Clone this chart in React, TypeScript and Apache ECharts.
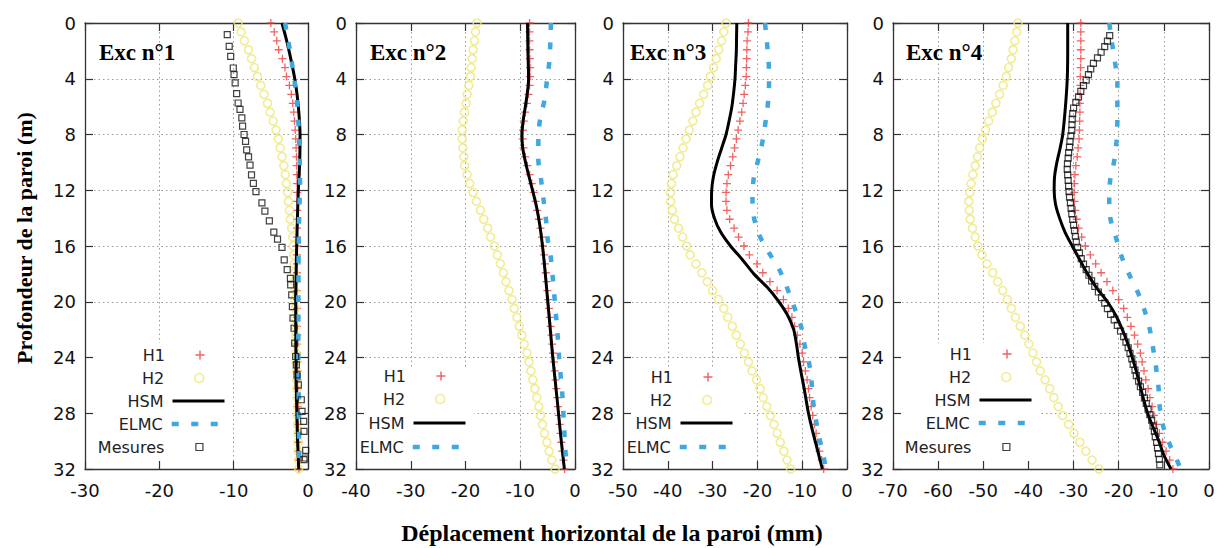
import React, { useEffect, useRef } from "react";
import * as echarts from "echarts";

// ---------- DATA ----------
const PANEL_TITLES = ["Exc n°1", "Exc n°2", "Exc n°3", "Exc n°4"];
const X_MIN = [-30, -40, -50, -70];
const X_MAX = 0;
const X_STEP = 10;
const DEPTH_MIN = 0;
const DEPTH_MAX = 32;
const DEPTH_STEP = 4;
const X_TITLE = "Déplacement horizontal de la paroi (mm)";
const Y_TITLE = "Profondeur de la paroi (m)";

// depths of the H1 / H2 markers (m)
const MARK_DEPTHS = [0, 0.64, 1.28, 1.92, 2.56, 3.2, 3.84, 4.48, 5.12, 5.76, 6.4, 7.04, 7.68, 8.32, 8.96, 9.6, 10.24, 10.88, 11.52, 12.16, 12.8, 13.44, 14.08, 14.72, 15.36, 16, 16.64, 17.28, 17.92, 18.56, 19.2, 19.84, 20.48, 21.12, 21.76, 22.4, 23.04, 23.68, 24.32, 24.96, 25.6, 26.24, 26.88, 27.52, 28.16, 28.8, 29.44, 30.08, 30.72, 31.36, 32];

// ----- Exc n°1 -----
const H1_EXC1 = [-5.0, -4.55, -4.2, -3.95, -3.45, -3.1, -2.9, -2.5, -2.25, -2.05, -1.92, -1.82, -1.72, -1.65, -1.6, -1.55, -1.52, -1.5, -1.48, -1.47, -1.47, -1.47, -1.47, -1.48, -1.48, -1.49, -1.5, -1.5, -1.5, -1.5, -1.5, -1.5, -1.49, -1.48, -1.47, -1.46, -1.45, -1.44, -1.42, -1.4, -1.38, -1.36, -1.34, -1.32, -1.3, -1.29, -1.28, -1.27, -1.26, -1.24, -1.22];
const H2_EXC1 = [-9.4, -9.0, -8.55, -8.0, -7.6, -7.2, -6.8, -6.35, -5.9, -5.45, -5.1, -4.7, -4.3, -4.0, -3.75, -3.5, -3.25, -3.05, -2.9, -2.75, -2.63, -2.5, -2.37, -2.2, -2.06, -1.98, -1.9, -1.86, -1.82, -1.8, -1.77, -1.75, -1.72, -1.7, -1.68, -1.65, -1.62, -1.6, -1.58, -1.55, -1.52, -1.5, -1.47, -1.45, -1.42, -1.4, -1.37, -1.35, -1.32, -1.3, -1.27];
const HSM_DEPTH_EXC1 = [0, 1, 2, 3, 4, 5, 6, 7, 8, 10, 12, 14, 16, 18, 20, 22, 24, 26, 28, 30, 32];
const HSM_EXC1 = [-3.5, -3.0, -2.55, -2.15, -1.78, -1.5, -1.3, -1.15, -1.07, -1.12, -1.3, -1.42, -1.52, -1.6, -1.65, -1.65, -1.62, -1.58, -1.5, -1.4, -1.25];
const ELMC_DEPTH_EXC1 = [0, 1.4, 2.75, 4.2, 5.6, 7, 8.4, 10, 11.2, 12.6, 14, 16, 18, 20, 22, 24, 26, 28, 30, 32];
const ELMC_EXC1 = [-3.1, -2.6, -2.2, -1.8, -1.5, -1.3, -1.2, -1.1, -1.07, -1.12, -1.2, -1.25, -1.28, -1.3, -1.3, -1.3, -1.25, -1.25, -1.2, -1.2];
const MES_DEPTH_EXC1 = [0.84, 1.67, 2.4, 3.23, 3.7, 4.3, 5.07, 5.74, 6.2, 6.8, 7.4, 8.0, 8.5, 9.1, 9.6, 10.2, 10.9, 11.5, 12.1, 12.9, 13.5, 14.2, 15.0, 15.5, 16.1, 17.0, 17.7, 18.32, 18.79, 19.51, 20.35, 21.18, 21.9, 22.97, 23.93, 24.53, 25.24, 25.96, 27.03, 27.87, 28.59, 29.3, 30.66, 31.21, 31.33];
const MES_EXC1 = [-10.86, -10.6, -10.4, -10.05, -9.95, -9.8, -9.6, -9.4, -9.15, -8.9, -8.8, -8.6, -8.4, -8.25, -8.0, -7.8, -7.6, -7.35, -7.0, -6.2, -5.8, -5.2, -4.6, -4.1, -3.5, -3.2, -2.8, -2.37, -2.33, -2.19, -2.1, -2.02, -1.88, -1.79, -1.66, -1.57, -1.48, -1.3, -0.9, -0.81, -0.58, -0.54, -0.31, -0.36, -0.54];

// ----- Exc n°2 -----
const H1_EXC2 = [-8.3, -8.3, -8.3, -8.3, -8.25, -8.2, -8.2, -8.3, -8.5, -8.8, -9.1, -9.35, -9.5, -9.55, -9.4, -9.1, -8.7, -8.3, -7.9, -7.55, -7.2, -6.9, -6.6, -6.3, -6.05, -5.85, -5.65, -5.5, -5.35, -5.2, -5.05, -4.9, -4.75, -4.6, -4.45, -4.3, -4.15, -4.0, -3.85, -3.7, -3.55, -3.4, -3.25, -3.1, -2.95, -2.8, -2.65, -2.5, -2.3, -2.1, -1.9];
const H2_EXC2 = [-17.88, -18.18, -18.36, -18.61, -18.79, -18.97, -19.09, -19.39, -19.7, -19.88, -20.18, -20.42, -20.61, -20.61, -20.48, -20.3, -20.18, -19.7, -19.21, -18.61, -18.0, -17.27, -16.67, -15.94, -15.45, -14.73, -14.18, -13.64, -13.09, -12.61, -12.06, -11.52, -11.09, -10.61, -10.18, -9.7, -9.27, -8.79, -8.42, -8.06, -7.7, -7.33, -6.97, -6.61, -6.3, -5.94, -5.58, -5.15, -4.73, -4.24, -3.64];
const HSM_DEPTH_EXC2 = [0, 2, 4, 5.6, 6.8, 8, 8.9, 9.9, 10.9, 12, 13.3, 14.7, 16, 17.6, 20, 22.4, 24, 27.2, 29.6, 32];
const HSM_EXC2 = [-8.67, -8.6, -8.48, -8.91, -9.39, -9.7, -9.58, -9.09, -8.48, -7.76, -6.97, -6.36, -5.94, -5.52, -4.97, -4.42, -4.06, -3.21, -2.61, -1.94];
const ELMC_DEPTH_EXC2 = [0, 1.37, 2.81, 4.21, 5.58, 6.97, 8.34, 9.78, 11.23, 12.67, 14.11, 15.48, 16.88, 18.27, 19.64, 21.08, 22.52, 23.97, 25.41, 26.74, 28.17, 29.61, 31.0, 32];
const ELMC_EXC2 = [-4.4, -4.5, -4.7, -5.15, -5.6, -6.4, -6.7, -6.7, -6.2, -5.75, -5.3, -5.0, -4.4, -4.06, -3.76, -3.45, -3.15, -2.9, -2.6, -2.3, -2.1, -1.9, -1.7, -1.5];

// ----- Exc n°3 -----
const H1_EXC3 = [-22.0, -22.1, -22.3, -22.35, -22.4, -22.45, -22.5, -22.7, -22.95, -23.2, -23.5, -23.9, -24.3, -24.7, -25.1, -25.5, -26.0, -26.5, -26.8, -27.0, -27.0, -26.8, -26.2, -25.2, -24.2, -23.0, -21.8, -20.1, -18.8, -17.2, -15.6, -14.2, -13.1, -12.3, -11.7, -11.1, -10.5, -10.0, -9.7, -9.3, -8.9, -8.6, -8.35, -8.0, -7.65, -7.3, -6.9, -6.55, -6.15, -5.65, -5.2];
const H2_EXC3 = [-27.0, -27.5, -28.0, -28.6, -29.2, -29.8, -30.5, -31.1, -32.0, -32.9, -33.7, -34.4, -35.2, -35.9, -36.6, -37.3, -38.0, -38.8, -39.2, -39.4, -39.35, -39.0, -38.5, -37.6, -36.7, -35.8, -35.0, -33.7, -32.4, -31.2, -30.0, -28.7, -27.5, -26.6, -25.6, -24.7, -23.8, -22.9, -22.0, -21.2, -20.2, -19.4, -18.7, -17.9, -17.1, -16.3, -15.6, -14.9, -14.1, -13.4, -12.6];
const HSM_DEPTH_EXC3 = [0, 1, 2, 3, 4, 5, 6, 7, 8, 9, 10, 11, 12, 13, 14, 15, 16, 17, 18, 19, 20, 21, 22, 23, 24, 25, 26, 27, 28, 29, 30, 31, 32];
const HSM_EXC3 = [-24.6, -24.65, -24.7, -24.85, -25.0, -25.3, -25.7, -26.3, -27.0, -28.0, -29.0, -29.8, -30.2, -30.25, -29.6, -28.2, -26.0, -23.3, -20.8, -17.7, -15.2, -13.2, -11.9, -11.3, -10.85, -10.3, -9.7, -9.15, -8.6, -7.9, -7.1, -6.3, -5.5];
const ELMC_DEPTH_EXC3 = [0, 1.3, 2.75, 4.2, 5.6, 6.9, 8.4, 9.8, 11.1, 12.55, 13.9, 15.2, 16.5, 17.7, 18.9, 20.2, 21.7, 23.2, 24.5, 25.8, 27.3, 28.7, 30.0, 31.3, 32];
const ELMC_EXC3 = [-18.3, -17.9, -17.5, -17.4, -17.6, -18.1, -18.8, -19.8, -20.8, -21.1, -20.8, -19.6, -17.4, -15.1, -13.5, -12.0, -10.3, -9.4, -8.4, -7.9, -7.5, -6.8, -6.0, -5.1, -4.7];

// ----- Exc n°4 -----
const H1_EXC4 = [-28.4, -28.4, -28.4, -28.4, -28.4, -28.45, -28.5, -28.5, -28.55, -28.6, -28.6, -28.65, -28.7, -28.8, -29.0, -29.2, -29.5, -29.7, -29.8, -29.85, -29.8, -29.6, -29.3, -28.9, -28.2, -27.4, -26.3, -25.1, -23.9, -22.6, -21.3, -20.0, -18.9, -18.1, -17.3, -16.5, -15.8, -15.2, -14.8, -14.4, -14.0, -13.5, -13.1, -12.6, -12.2, -11.6, -11.0, -10.3, -9.5, -8.7, -8.0];
const H2_EXC4 = [-42.3, -42.6, -43.0, -43.4, -43.8, -44.4, -44.9, -45.6, -46.4, -47.2, -48.0, -48.8, -49.5, -50.2, -50.8, -51.3, -51.8, -52.3, -52.7, -53.0, -53.2, -53.1, -52.9, -52.4, -51.8, -51.2, -50.3, -49.2, -47.9, -46.8, -45.7, -44.7, -43.8, -42.9, -41.8, -40.8, -39.9, -39.0, -38.2, -37.4, -36.3, -35.3, -34.4, -33.4, -32.4, -31.1, -29.9, -28.6, -27.3, -25.9, -24.4];
const HSM_DEPTH_EXC4 = [0, 2, 4, 6, 8, 9, 10, 11, 12, 13, 14, 15, 16, 17, 18, 19, 20, 21, 22, 23, 24, 25, 26, 28, 30, 31, 32];
const HSM_EXC4 = [-31.3, -31.3, -31.4, -31.8, -32.4, -33.0, -33.7, -34.2, -34.3, -34.0, -33.1, -31.9, -30.3, -28.6, -26.9, -24.9, -22.5, -20.6, -19.2, -18.0, -17.0, -16.1, -15.3, -13.6, -11.1, -10.0, -8.4];
const ELMC_DEPTH_EXC4 = [0, 1.4, 2.85, 4.3, 5.6, 7, 8.5, 9.9, 11.3, 12.7, 14.1, 15.4, 16.8, 18.1, 19.3, 20.7, 22, 23.5, 24.8, 26.1, 27.6, 29, 30.3, 31.6, 32];
const ELMC_EXC4 = [-22.1, -21.5, -20.8, -20.3, -20.3, -20.3, -20.5, -21.0, -21.9, -22.1, -21.8, -20.6, -19.3, -17.6, -15.8, -14.2, -13.1, -12.3, -11.7, -11.2, -10.9, -10.1, -8.6, -6.8, -6.3];
const MES_DEPTH_EXC4 = [0.9, 1.3, 1.7, 2.1, 2.5, 2.9, 3.3, 3.7, 4.1, 4.5, 4.9, 5.3, 5.7, 6.1, 6.5, 6.9, 7.3, 7.7, 8.1, 8.5, 8.9, 9.3, 9.7, 10.1, 10.5, 10.9, 11.3, 11.7, 12.1, 12.5, 12.9, 13.3, 13.7, 14.1, 14.5, 14.9, 15.3, 15.7, 16.1, 16.5, 16.9, 17.3, 17.7, 18.1, 18.5, 18.9, 19.3, 19.7, 20.1, 20.5, 20.9, 21.3, 21.7, 22.1, 22.5, 22.9, 23.3, 23.7, 24.1, 24.5, 24.9, 25.3, 25.7, 26.1, 26.5, 26.9, 27.3, 27.7, 28.1, 28.5, 28.9, 29.3, 29.7, 30.1, 30.5, 30.9, 31.3, 31.7];
const MES_EXC4 = [-22.0, -22.5, -23.1, -23.9, -24.7, -25.6, -26.2, -26.7, -27.2, -27.8, -28.4, -28.9, -29.5, -30.0, -30.2, -30.3, -30.35, -30.4, -30.6, -30.8, -30.9, -31.1, -31.2, -31.35, -31.4, -31.3, -31.2, -31.1, -31.0, -30.9, -30.7, -30.55, -30.4, -30.2, -30.0, -29.8, -29.6, -29.4, -29.1, -28.7, -28.3, -27.8, -27.2, -26.6, -26.0, -25.3, -24.5, -23.8, -23.1, -22.5, -21.8, -21.0, -20.3, -19.6, -18.9, -18.4, -17.9, -17.5, -17.1, -16.8, -16.4, -16.1, -15.6, -15.2, -14.7, -14.3, -13.9, -13.5, -13.1, -12.7, -12.4, -12.1, -11.9, -11.6, -11.4, -11.2, -11.0, -10.9];

// ---------- LAYOUT / STYLE ----------
const W = 1225;
const H = 548;
const GRIDS = [
  { left: 85, top: 23, width: 223, height: 446 },
  { left: 356, top: 23, width: 219, height: 446 },
  { left: 623, top: 23, width: 224, height: 446 },
  { left: 893, top: 23, width: 316, height: 446 },
];
const TITLE_POS = [[99, 52], [370, 52], [630, 52], [906, 52]];
const LEGEND_CENTER = [200, 441, 708, 1007];
const LEGEND_ROWS = [
  [355, 378, 401, 424, 447],
  [376, 399, 423, 447],
  [377, 400, 423, 447],
  [354, 377, 400, 423, 447],
];
const LEGEND_BOX = [
  [94, 343, 139, 118],
  [365, 368, 109, 93],
  [632, 367, 110, 94],
  [902, 343, 138, 118],
];

const C_H1 = "#ec3b3b";
const C_H2 = "#eee77a";
const C_HSM = "#000000";
const C_ELMC = "#3fa8df";
const C_MES = "#111111";
const PLUS = "path://M4.2,0h1.6v4.2h4.2v1.6h-4.2v4.2h-1.6v-4.2h-4.2v-1.6h4.2z";
const SQUARE = "path://M0,0h10v10h-10z";
const ELMC_DASH = [7, 12.5];
const TICK_FONT = "DejaVu Sans";
const SERIF = "'Liberation Serif', 'Times New Roman', serif";

const pairs = (vals: number[], depths: number[]) => vals.map((v, i) => [v, depths[i]]);

const PANELS = [
  { h1: H1_EXC1, h2: H2_EXC1, hsm: [HSM_EXC1, HSM_DEPTH_EXC1], elmc: [ELMC_EXC1, ELMC_DEPTH_EXC1], mes: [MES_EXC1, MES_DEPTH_EXC1] },
  { h1: H1_EXC2, h2: H2_EXC2, hsm: [HSM_EXC2, HSM_DEPTH_EXC2], elmc: [ELMC_EXC2, ELMC_DEPTH_EXC2], mes: null },
  { h1: H1_EXC3, h2: H2_EXC3, hsm: [HSM_EXC3, HSM_DEPTH_EXC3], elmc: [ELMC_EXC3, ELMC_DEPTH_EXC3], mes: null },
  { h1: H1_EXC4, h2: H2_EXC4, hsm: [HSM_EXC4, HSM_DEPTH_EXC4], elmc: [ELMC_EXC4, ELMC_DEPTH_EXC4], mes: [MES_EXC4, MES_DEPTH_EXC4] },
];

function legendItem(name: string, center: number, rowY: number) {
  const isLine = name === "HSM" || name === "ELMC";
  const w = isLine ? 52 : name === "Mesures" ? 7 : 9;
  const pad = isLine ? 4 : 30 - w / 2;
  const base: any = {
    data: [name],
    orient: "vertical",
    align: "right",
    right: W - (center + w / 2),
    top: rowY - 9,
    itemWidth: w,
    itemHeight: 18,
    itemGap: 0,
    padding: 0,
    selectedMode: false,
    symbolKeepAspect: true,
    textStyle: { fontSize: 16, color: "#222", fontFamily: TICK_FONT, lineHeight: 18, padding: [0, pad, 0, 0] },
  };
  if (name === "HSM") {
    base.itemStyle = { color: "rgba(0,0,0,0)", borderWidth: 0 };
    base.lineStyle = { width: 3, color: C_HSM, type: "solid" };
  } else if (name === "ELMC") {
    base.itemStyle = { color: "rgba(0,0,0,0)", borderWidth: 0 };
    base.lineStyle = { width: 4.5, color: C_ELMC, type: ELMC_DASH, cap: "butt" };
  } else if (name === "H1") {
    base.itemStyle = { color: C_H1, borderWidth: 0 };
  } else if (name === "H2") {
    base.itemStyle = { color: "rgba(0,0,0,0)", borderColor: C_H2, borderWidth: 1.6 };
  } else {
    base.itemStyle = { color: "rgba(0,0,0,0)", borderColor: C_MES, borderWidth: 1.2 };
  }
  return base;
}

function buildOption() {
  const grid: any[] = [];
  const xAxis: any[] = [];
  const yAxis: any[] = [];
  const series: any[] = [];
  const legend: any[] = [];
  const graphic: any[] = [];

  GRIDS.forEach((g, i) => {
    grid.push({ ...g, containLabel: false });
    const axisLine = { show: true, onZero: false, lineStyle: { color: "#333", width: 1.3 } };
    const axisTick = { show: true, inside: true, length: 8, lineStyle: { color: "#333", width: 1.2 } };
    const split = { show: true, showMinLine: false, showMaxLine: false, lineStyle: { color: "#9a9a9a", width: 1, type: [1.5, 3] } };
    xAxis.push({
      type: "value", gridIndex: i, position: "bottom", min: X_MIN[i], max: X_MAX, interval: X_STEP,
      axisLine, axisTick,
      axisLabel: { show: true, fontSize: 18, color: "#111", fontFamily: TICK_FONT, margin: 12 },
      splitLine: split,
    });
    xAxis.push({
      type: "value", gridIndex: i, position: "top", min: X_MIN[i], max: X_MAX, interval: X_STEP,
      axisLine, axisTick, axisLabel: { show: false }, splitLine: { show: false },
    });
    yAxis.push({
      type: "value", gridIndex: i, position: "left", inverse: true, min: DEPTH_MIN, max: DEPTH_MAX, interval: DEPTH_STEP,
      axisLine, axisTick,
      axisLabel: { show: true, fontSize: 18, color: "#111", fontFamily: TICK_FONT, margin: 9 },
      splitLine: split,
    });
    yAxis.push({
      type: "value", gridIndex: i, position: "right", inverse: true, min: DEPTH_MIN, max: DEPTH_MAX, interval: DEPTH_STEP,
      axisLine, axisTick, axisLabel: { show: false }, splitLine: { show: false },
    });

    const xi = i * 2;
    const yi = i * 2;
    const p = PANELS[i];
    series.push({
      name: "H1", type: "scatter", xAxisIndex: xi, yAxisIndex: yi,
      symbol: PLUS, symbolSize: 8, symbolKeepAspect: true,
      itemStyle: { color: C_H1 },
      data: pairs(p.h1, MARK_DEPTHS), z: 2,
    });
    series.push({
      name: "H2", type: "scatter", xAxisIndex: xi, yAxisIndex: yi,
      symbol: "circle", symbolSize: 8,
      itemStyle: { color: "rgba(0,0,0,0)", borderColor: C_H2, borderWidth: 1.6 },
      data: pairs(p.h2, MARK_DEPTHS), z: 2,
    });
    series.push({
      name: "HSM", type: "line", xAxisIndex: xi, yAxisIndex: yi,
      symbol: "none", smooth: 0.3,
      lineStyle: { color: C_HSM, width: 3 }, itemStyle: { color: C_HSM },
      data: pairs(p.hsm[0], p.hsm[1]), z: 3,
    });
    series.push({
      name: "ELMC", type: "line", xAxisIndex: xi, yAxisIndex: yi,
      symbol: "none", smooth: 0.3,
      lineStyle: { color: C_ELMC, width: 4.5, type: ELMC_DASH, cap: "butt" }, itemStyle: { color: C_ELMC },
      data: pairs(p.elmc[0], p.elmc[1]), z: 3,
    });
    if (p.mes) {
      series.push({
        name: "Mesures", type: "scatter", xAxisIndex: xi, yAxisIndex: yi,
        symbol: SQUARE, symbolSize: 6, symbolKeepAspect: true,
        itemStyle: { color: "rgba(0,0,0,0)", borderColor: C_MES, borderWidth: 1.2 },
        data: pairs(p.mes[0], p.mes[1]), z: 4,
      });
    }

    const names = p.mes ? ["H1", "H2", "HSM", "ELMC", "Mesures"] : ["H1", "H2", "HSM", "ELMC"];
    names.forEach((n, k) => legend.push(legendItem(n, LEGEND_CENTER[i], LEGEND_ROWS[i][k])));

    const b = LEGEND_BOX[i];
    graphic.push({ type: "rect", z: 1, silent: true, shape: { x: b[0], y: b[1], width: b[2], height: b[3] }, style: { fill: "#fff" } });
    graphic.push({
      type: "text", z: 5, x: TITLE_POS[i][0], y: TITLE_POS[i][1],
      style: { text: PANEL_TITLES[i], font: `bold 23px ${SERIF}`, fill: "#000", align: "left", verticalAlign: "middle" },
    });
  });

  graphic.push({
    type: "text", z: 5, x: 24, y: 238, rotation: Math.PI / 2,
    style: { text: Y_TITLE, font: `bold 22px ${SERIF}`, fill: "#000", align: "center", verticalAlign: "middle" },
  });
  graphic.push({
    type: "text", z: 5, x: 612, y: 533,
    style: { text: X_TITLE, font: `bold 24px ${SERIF}`, fill: "#000", align: "center", verticalAlign: "middle" },
  });

  return {
    animation: false,
    backgroundColor: "#ffffff",
    grid, xAxis, yAxis, series, legend, graphic,
  };
}

export default function App() {
  const ref = useRef<HTMLDivElement>(null);
  useEffect(() => {
    if (!ref.current) return;
    const chart = echarts.init(ref.current, null, { renderer: "svg" });
    chart.setOption(buildOption() as any);
    return () => chart.dispose();
  }, []);
  return (
    <div
      ref={ref}
      style={{ position: "absolute", left: 0, top: 0, width: W, height: H, background: "#fff" }}
    />
  );
}
